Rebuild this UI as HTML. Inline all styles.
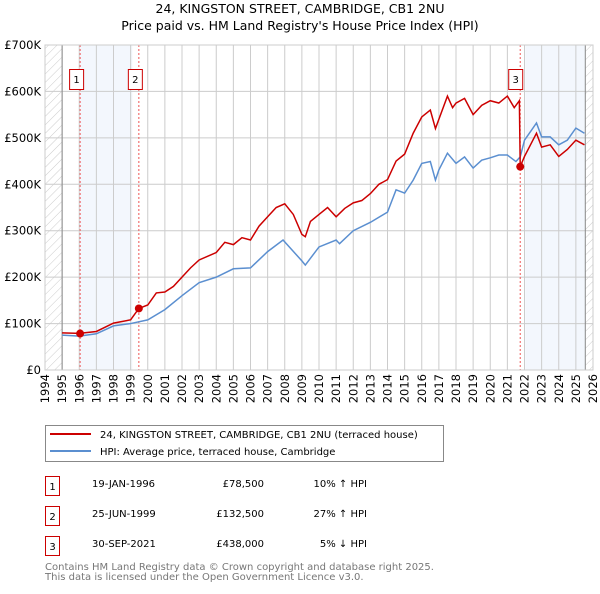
<!DOCTYPE html>
<html><head><meta charset="utf-8"><style>
body{margin:0;background:#fff;font-family:"DejaVu Sans","Liberation Sans",sans-serif;}
svg text{font-family:"DejaVu Sans","Liberation Sans",sans-serif;}
</style></head><body>
<svg id="chart" width="600" height="590" xmlns="http://www.w3.org/2000/svg">
<defs><pattern id="hatch" width="6" height="6" patternUnits="userSpaceOnUse" patternTransform="rotate(45)"><line x1="0" y1="0" x2="0" y2="6" stroke="#ccc" stroke-width="1"/></pattern></defs>
<text x="300" y="13" text-anchor="middle" font-size="12.5">24, KINGSTON STREET, CAMBRIDGE, CB1 2NU</text>
<text x="300" y="30" text-anchor="middle" font-size="12.5">Price paid vs. HM Land Registry's House Price Index (HPI)</text>
<g id="plot"></g>
<g>
<rect x="45.5" y="425.5" width="398" height="36" fill="#fff" stroke="#888"/>
<line x1="50" y1="434" x2="91" y2="434" stroke="#cc0000" stroke-width="2"/>
<text x="100" y="438" font-size="10">24, KINGSTON STREET, CAMBRIDGE, CB1 2NU (terraced house)</text>
<line x1="50" y1="451" x2="91" y2="451" stroke="#5b8fd0" stroke-width="2"/>
<text x="100" y="455" font-size="10">HPI: Average price, terraced house, Cambridge</text>
</g>
<g font-size="10">
<rect x="45.5" y="476.5" width="14" height="19" fill="none" stroke="#cc0000"/><text x="52.5" y="490" text-anchor="middle">1</text>
<text x="92" y="487">19-JAN-1996</text><text x="264" y="487" text-anchor="end">£78,500</text><text x="367" y="487" text-anchor="end">10% ↑ HPI</text>
<rect x="45.5" y="506.5" width="14" height="19" fill="none" stroke="#cc0000"/><text x="52.5" y="520" text-anchor="middle">2</text>
<text x="92" y="517">25-JUN-1999</text><text x="264" y="517" text-anchor="end">£132,500</text><text x="367" y="517" text-anchor="end">27% ↑ HPI</text>
<rect x="45.5" y="536.5" width="14" height="19" fill="none" stroke="#cc0000"/><text x="52.5" y="550" text-anchor="middle">3</text>
<text x="92" y="547">30-SEP-2021</text><text x="264" y="547" text-anchor="end">£438,000</text><text x="367" y="547" text-anchor="end">5% ↓ HPI</text>
</g>
<text x="45" y="570" font-size="10" fill="#777">Contains HM Land Registry data © Crown copyright and database right 2025.</text>
<text x="45" y="580" font-size="10" fill="#777">This data is licensed under the Open Government Licence v3.0.</text>
</svg>
<script>
const hpiYears=[1995,1996,1997,1998,1999,2000,2001,2002,2003,2004,2005,2006,2007,2007.9,2009,2009.2,2010,2011,2011.2,2012,2013,2014,2014.5,2015,2015.5,2016,2016.5,2016.8,2017,2017.5,2018,2018.5,2019,2019.5,2020,2020.5,2021,2021.5,2021.75,2022,2022.7,2023,2023.5,2024,2024.5,2025,2025.5];
const hpiValues=[75,73,78,95,100,108,130,160,188,200,218,220,255,280,235,226,265,280,272,300,318,340,388,381,409,445,449,409,431,467,445,459,435,452,457,463,463,449,459,495,532,502,502,485,495,521,510];
const priceYears=[1995,1996,1997,1998,1999,1999.48,2000,2000.5,2001,2001.5,2002,2002.5,2003,2004,2004.5,2005,2005.5,2006,2006.5,2007,2007.5,2008,2008.5,2009,2009.2,2009.5,2010,2010.5,2011,2011.5,2012,2012.5,2013,2013.5,2014,2014.5,2015,2015.5,2016,2016.5,2016.8,2017,2017.5,2017.8,2018,2018.5,2019,2019.5,2020,2020.5,2021,2021.4,2021.7,2021.75,2022,2022.7,2023,2023.5,2024,2024.5,2025,2025.5];
const priceValues=[80,79,83,101,108,132.5,140,166,168,180,200,220,237,253,275,270,285,280,310,330,350,358,335,292,287,320,335,350,330,348,360,365,380,400,410,450,465,510,545,560,520,540,590,565,575,585,550,570,580,575,590,565,580,438,460,510,480,485,460,475,495,485];
const saleYears=[1996.05,1999.48,2021.75];
const saleValues=[78.5,132.5,438];
const saleLabels=["1","2","3"];
const yTicks=[0,100,200,300,400,500,600,700];
const yTickLabels=["£0","£100K","£200K","£300K","£400K","£500K","£600K","£700K"];
const xTickYears=[1994,1995,1996,1997,1998,1999,2000,2001,2002,2003,2004,2005,2006,2007,2008,2009,2010,2011,2012,2013,2014,2015,2016,2017,2018,2019,2020,2021,2022,2023,2024,2025,2026];

const NS="http://www.w3.org/2000/svg";
const L=45,R=593,T=45,B=370;
const x=y=>L+(y-1994)*(R-L)/32;
const yv=v=>B-v*(B-T)/700;
const g=document.getElementById('plot');
function mk(tag,attrs){const e=document.createElementNS(NS,tag);for(const k in attrs)e.setAttribute(k,attrs[k]);g.appendChild(e);return e;}
let e;
e=mk('rect',{x:L,y:T,width:R-L,height:B-T,fill:'#fff'});


e=mk('rect',{x:L,y:T,width:x(1995)-L,height:B-T,fill:'url(#hatch)'});


e=mk('rect',{x:x(2025.55),y:T,width:R-x(2025.55),height:B-T,fill:'url(#hatch)'});


e=mk('rect',{x:x(saleYears[0]),y:T,width:x(1999.1)-x(saleYears[0]),height:B-T,fill:'#eef3fc',opacity:0.7});


e=mk('rect',{x:x(2022.05),y:T,width:x(2025.55)-x(2022.05),height:B-T,fill:'#eef3fc',opacity:0.7});


xTickYears.forEach(yr=>{
  e=mk('line',{x1:x(yr),y1:T,x2:x(yr),y2:B,stroke:'#ccc','stroke-width':1});
  
  
  const px=x(yr);
  e=mk('text',{x:px+4,y:B+4,'font-size':'11.5','text-anchor':'end',transform:`rotate(-90 ${px+4} ${B+4})`});
  e.textContent=yr;
  
  
});
yTicks.forEach((v,i)=>{
  e=mk('line',{x1:L,y1:yv(v),x2:R,y2:yv(v),stroke:'#ccc','stroke-width':1});
  
  
  e=mk('text',{x:L-4,y:yv(v)+4,'font-size':'11.5','text-anchor':'end'});
  e.textContent=yTickLabels[i];
  
  
});
e=mk('line',{x1:x(1995),y1:T,x2:x(1995),y2:B,stroke:'#888'});


e=mk('line',{x1:x(2025.55),y1:T,x2:x(2025.55),y2:B,stroke:'#888'});


saleYears.forEach((s,i)=>{
  e=mk('line',{x1:x(s),y1:T,x2:x(s),y2:B,stroke:'#e55','stroke-dasharray':'2,2','stroke-width':1});
  
  
});
e=mk('polyline',{points:hpiYears.map((yr,i)=>x(yr)+','+yv(hpiValues[i])).join(' '),fill:'none',stroke:'#5b8fd0','stroke-width':1.5});


e=mk('polyline',{points:priceYears.map((yr,i)=>x(yr)+','+yv(priceValues[i])).join(' '),fill:'none',stroke:'#cc0000','stroke-width':1.5});


saleYears.forEach((s,i)=>{
  e=mk('circle',{cx:x(s),cy:yv(saleValues[i]),r:4,fill:'#cc0000'});
  
  
  const bx=x(s)-(i<2?10:11)-0.5;
  e=mk('rect',{x:bx,y:69.5,width:14,height:20,fill:'#fff',stroke:'#cc0000'});
  
  
  e=mk('text',{x:bx+7,y:83,'font-size':'10','text-anchor':'middle'});
  e.textContent=saleLabels[i];
  
  
});
e=mk('rect',{x:L,y:T,width:R-L,height:B-T,fill:'none',stroke:'#ccc'});


</script>
</body></html>
